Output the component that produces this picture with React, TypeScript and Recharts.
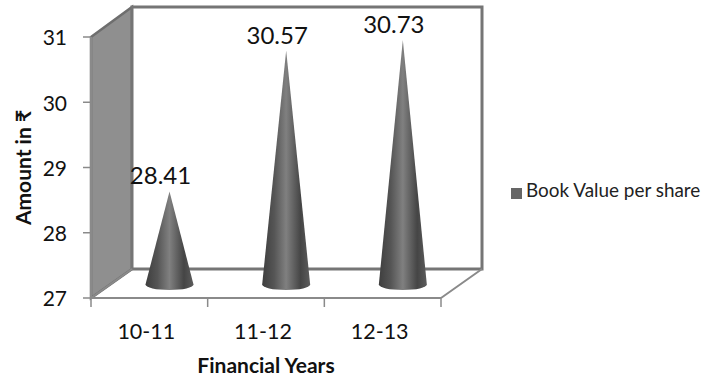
import { Bar, BarChart, LabelList, Legend, ReferenceArea, XAxis, YAxis } from "recharts";

const years = ["10-11", "11-12", "12-13"];
const bookValues = [28.41, 30.57, 30.73];
const yTicks = [27, 28, 29, 30, 31];

const data = years.map((year, i) => ({ year, value: bookValues[i] }));

const FONT = "Lato, 'Open Sans', sans-serif";
const DEPTH_X = 41;
const DEPTH_Y = 29;
const AXIS_GREY = "#8a8a8a";

// side wall, back wall and floor of the 3D box, plus the x tick marks at band edges
function Box({ x, y, width, height }: any) {
  const bottom = y + height;
  const right = x + width;
  return (
    <g>
      <polygon
        points={`${x},${y} ${x + DEPTH_X},${y - DEPTH_Y - 1} ${x + DEPTH_X},${bottom - DEPTH_Y} ${x},${bottom}`}
        fill="#8f8f8f"
        stroke="#6e6e6e"
        strokeWidth={2.5}
      />
      <rect
        x={x + DEPTH_X}
        y={y - DEPTH_Y - 1}
        width={width}
        height={height + 1}
        fill="#fff"
        stroke="#757575"
        strokeWidth={3}
      />
      <path
        d={`M${x} ${bottom} L${x + DEPTH_X} ${bottom - DEPTH_Y} M${right} ${bottom} L${right + DEPTH_X} ${bottom - DEPTH_Y} M${x} ${bottom} L${right} ${bottom}`}
        stroke={AXIS_GREY}
        strokeWidth={2}
        fill="none"
      />
      {[0, 1, 2, 3].map((i) => (
        <line
          key={i}
          x1={x + (width * i) / 3}
          x2={x + (width * i) / 3}
          y1={bottom}
          y2={bottom + 9}
          stroke={AXIS_GREY}
          strokeWidth={1.5}
        />
      ))}
    </g>
  );
}

function Cone({ x, y, width, height }: any) {
  const cx = x + width / 2 + DEPTH_X / 2;
  const shift = DEPTH_Y / 2;
  const baseY = y + height - shift + 1;
  const tipY = y - shift;
  const rx = width / 2;
  return (
    <path
      d={`M${cx} ${tipY} L${cx - rx} ${baseY} A${rx} 5.5 0 0 0 ${cx + rx} ${baseY} Z`}
      fill="url(#coneShade)"
    />
  );
}

function ValueLabel({ x, y, width, value }: any) {
  return (
    <text
      x={x + width / 2 + DEPTH_X / 2 - 9}
      y={y - DEPTH_Y / 2 - 7}
      textAnchor="middle"
      fontSize={24}
      fontFamily={FONT}
      fill="#111"
    >
      {Number(value).toFixed(2)}
    </text>
  );
}

export default function App() {
  return (
    <div style={{ position: "absolute", left: 0, top: 0 }}>
      <BarChart
        width={701}
        height={381}
        data={data}
        margin={{ top: 37, right: 70, bottom: 0, left: 0 }}
      >
        <defs>
          <linearGradient id="coneShade" x1="0" y1="0" x2="1" y2="0">
            <stop offset="0" stopColor="#3e3e3e" />
            <stop offset="0.25" stopColor="#555555" />
            <stop offset="0.5" stopColor="#808080" />
            <stop offset="0.8" stopColor="#454545" />
            <stop offset="1" stopColor="#5c5c5c" />
          </linearGradient>
        </defs>
        <XAxis
          dataKey="year"
          height={83}
          axisLine={false}
          tickLine={false}
          tick={{ fontSize: 21.5, fontFamily: FONT, fill: "#111", dx: -3, dy: 18 }}
          label={{
            value: "Financial Years",
            position: "insideBottom",
            offset: 8,
            fontSize: 21,
            fontWeight: 700,
            fontFamily: FONT,
            fill: "#111",
          }}
        />
        <YAxis
          domain={[27, 31]}
          ticks={yTicks}
          width={91}
          tickSize={8}
          tickMargin={16}
          axisLine={{ stroke: AXIS_GREY, strokeWidth: 2 }}
          tickLine={{ stroke: AXIS_GREY, strokeWidth: 1.5 }}
          tick={{ fontSize: 21, fontFamily: FONT, fill: "#111", dy: 1 }}
          label={{
            value: "Amount in ₹",
            angle: -90,
            position: "insideLeft",
            offset: 24,
            textAnchor: "middle",
            fontSize: 21,
            fontWeight: 700,
            fontFamily: FONT,
            fill: "#111",
          }}
        />
        <ReferenceArea y1={27} y2={31} shape={<Box />} />
        <Legend
          layout="vertical"
          align="right"
          verticalAlign="top"
          iconType="square"
          iconSize={11}
          wrapperStyle={{ left: 511, top: 178, width: 190 }}
          formatter={(value) => (
            <span
              style={{
                color: "#222",
                fontSize: 18.9,
                fontFamily: FONT,
                whiteSpace: "nowrap",
              }}
            >
              {value}
            </span>
          )}
        />
        <Bar
          dataKey="value"
          name="Book Value per share"
          fill="#666666"
          barSize={48}
          shape={<Cone />}
          isAnimationActive={false}
        >
          <LabelList dataKey="value" content={<ValueLabel />} />
        </Bar>
      </BarChart>
    </div>
  );
}
